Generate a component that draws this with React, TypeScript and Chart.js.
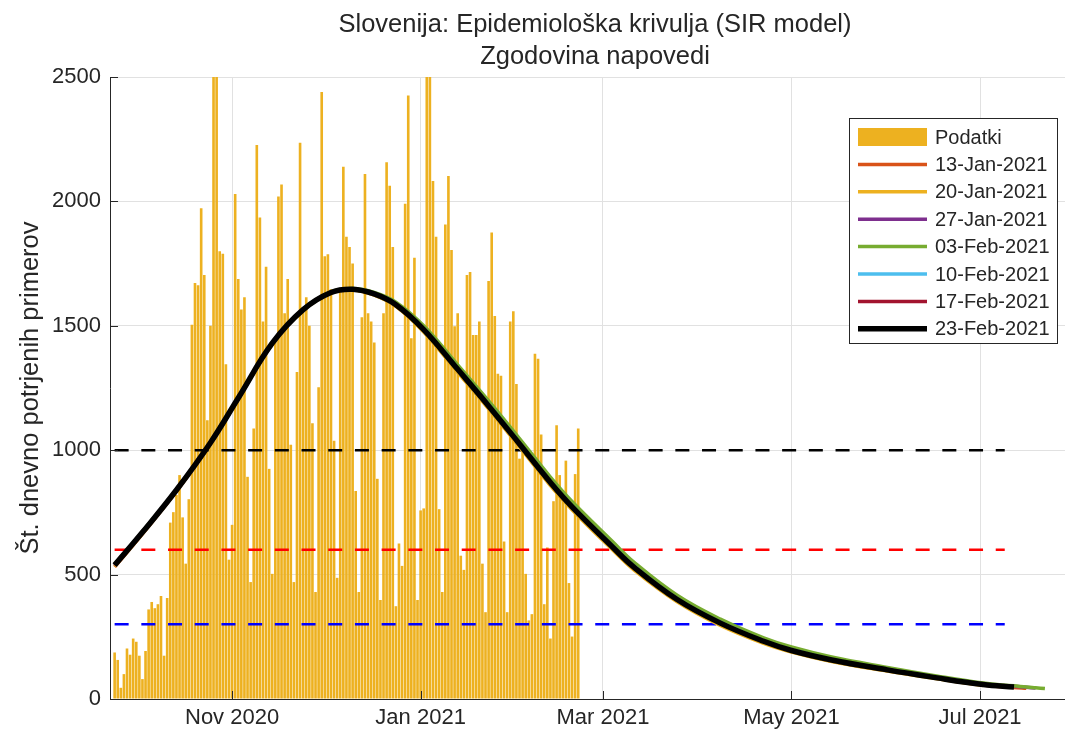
import React, { useEffect, useRef } from 'react';
import { Chart, registerables } from 'chart.js';

Chart.register(...registerables);

const FONT = "'Liberation Sans', Arial, Helvetica, sans-serif";
const TEXT = '#262626';
const GRID = '#e1e1e1';

const TITLE_LINES = ['Slovenija: Epidemiološka krivulja (SIR model)', 'Zgodovina napovedi'];
const Y_LABEL = 'Št. dnevno potrjenih primerov';

// Daily confirmed cases, one bar per day from CASES_START
const CASES_START = '2020-09-24';
const CASES = [
  187, 157, 45, 100, 203, 178, 243, 230, 174, 80, 193, 360, 390, 365, 381, 414, 174, 406, 709, 751,
  820, 900, 730, 544, 803, 1504, 1672, 1663, 1972, 1704, 1120,
  1500, 2540, 2500, 1800, 1790, 1345, 560, 700, 2030, 1688, 1566, 1615, 893, 470, 1087, 2227, 1935, 1517,
  1737, 925, 503, 1452, 2020, 2068, 1550, 1688, 1022, 470, 1314, 2236, 1566,
  1615, 1500, 1108, 430, 1253, 2440, 1780, 1788, 1647, 1038, 487, 1647, 2139, 1858, 1817, 1750, 836, 430,
  1534, 2110, 1550, 1517, 1433, 885, 398, 1550, 2157, 2063, 1817, 373, 625,
  535, 1991, 2426, 1450, 1774, 398, 758, 766, 2540, 2520, 2082, 1858, 763, 430, 1907, 2102, 1805, 1498,
  1550, 576, 519, 1704, 1716, 1463, 1463, 1517, 544, 349, 1680, 1875,
  1539, 1307, 1299, 633, 349, 1517, 1558, 1266, 966, 1014, 503, 316, 341, 1388, 1368, 1063, 381, 609,
  243, 795, 1100, 900, 820, 958, 466, 251, 904, 1087,
];

// SIR forecast curves, sampled at these dates
const CURVE_DATES = [
  '2020-09-24', '2020-10-03', '2020-10-14', '2020-10-25', '2020-11-03', '2020-11-14', '2020-11-24',
  '2020-12-03', '2020-12-10', '2020-12-17', '2020-12-24', '2021-01-02', '2021-01-13', '2021-01-23',
  '2021-02-02', '2021-02-12', '2021-02-19', '2021-03-04', '2021-03-11', '2021-03-25', '2021-04-08',
  '2021-04-22', '2021-05-01', '2021-05-14', '2021-06-01', '2021-06-15', '2021-07-02', '2021-07-12',
  '2021-07-16', '2021-07-19', '2021-07-22',
];
const FC_13_JAN = [531, 664, 835, 1026, 1207, 1427, 1563, 1632, 1645, 1624, 1580, 1478, 1316, 1169, 1016, 861, 764, 604, 522, 394, 299, 227, 192, 153, 114, 87, 56, 46, 43];
const FC_20_JAN = [533, 665, 836, 1027, 1207, 1427, 1562, 1631, 1644, 1623, 1578, 1475, 1313, 1166, 1013, 858, 761, 601, 519, 391, 296, 224, 189, 151, 112, 85, 54];
const FC_27_JAN = [538, 670, 840, 1030, 1210, 1430, 1565, 1634, 1647, 1630, 1590, 1492, 1333, 1187, 1034, 879, 781, 620, 538, 407, 311, 237, 201, 162, 121, 93, 61, 51, 47, 44];
const FC_03_FEB = [541, 673, 842, 1032, 1212, 1431, 1566, 1636, 1650, 1634, 1595, 1500, 1343, 1198, 1047, 892, 794, 634, 550, 417, 321, 246, 209, 169, 127, 97, 64, 53, 48, 45, 42];
const FC_10_FEB = [538, 670, 840, 1030, 1210, 1430, 1565, 1634, 1647, 1629, 1587, 1488, 1328, 1182, 1029, 874, 776, 616, 534, 403, 308, 234, 198, 159, 119, 91, 59, 49];
const FC_17_FEB = [538, 670, 840, 1030, 1210, 1430, 1565, 1634, 1647, 1628, 1586, 1486, 1326, 1179, 1026, 871, 773, 613, 531, 401, 306, 233, 196, 158, 118, 90, 58, 48];
const FC_23_FEB = [538, 670, 840, 1030, 1210, 1430, 1565, 1634, 1647, 1628, 1585, 1485, 1325, 1178, 1025, 870, 772, 612, 530, 400, 305, 232, 195, 157, 117, 89, 58, 48];

const BAR_LABEL = 'Podatki';
const BAR_COLOR = '#EDB120';
const SERIES_LABELS = ['13-Jan-2021', '20-Jan-2021', '27-Jan-2021', '03-Feb-2021', '10-Feb-2021', '17-Feb-2021', '23-Feb-2021'];
const SERIES_VALUES = [FC_13_JAN, FC_20_JAN, FC_27_JAN, FC_03_FEB, FC_10_FEB, FC_17_FEB, FC_23_FEB];
const SERIES_COLORS = ['#D95319', '#EDB120', '#7E2F8E', '#77AC30', '#4DBEEE', '#A2142F', '#000000'];

const THRESHOLDS = [1000, 600, 300];
const THRESHOLD_COLORS = ['#000000', '#FF0000', '#0000FF'];
const THRESHOLD_SPAN = ['2020-09-24', '2021-07-09'];

const X_RANGE = ['2020-09-22T12:00:00Z', '2021-07-28T12:00:00Z'];
const X_TICK_DATES = ['2020-11-01', '2021-01-01', '2021-03-01', '2021-05-01', '2021-07-01'];
const X_TICK_LABELS = ['Nov 2020', 'Jan 2021', 'Mar 2021', 'May 2021', 'Jul 2021'];
const Y_TICKS = [0, 500, 1000, 1500, 2000, 2500];

const day = (s: string) => Date.parse(s.length === 10 ? s + 'T00:00:00Z' : s) / 86400000;

const decorPlugin = {
  id: 'matlabDecor',
  afterDraw(chart: any) {
    const ctx = chart.ctx as CanvasRenderingContext2D;
    const area = chart.chartArea;
    const xs = chart.scales.x;
    const ys = chart.scales.y;
    ctx.save();
    // inward tick marks
    ctx.strokeStyle = TEXT;
    ctx.lineWidth = 1;
    Y_TICKS.forEach((v) => {
      const py = Math.round(ys.getPixelForValue(v)) + 0.5;
      ctx.beginPath();
      ctx.moveTo(area.left, py);
      ctx.lineTo(area.left + 8, py);
      ctx.stroke();
    });
    X_TICK_DATES.forEach((d) => {
      const px = Math.round(xs.getPixelForValue(day(d))) + 0.5;
      ctx.beginPath();
      ctx.moveTo(px, area.bottom);
      ctx.lineTo(px, area.bottom - 8);
      ctx.stroke();
    });
    // title
    ctx.fillStyle = TEXT;
    ctx.font = `25.5px ${FONT}`;
    ctx.textAlign = 'center';
    ctx.textBaseline = 'middle';
    ctx.fillText(TITLE_LINES[0], 595, 25);
    ctx.fillText(TITLE_LINES[1], 595, 57);
    // y label
    ctx.save();
    ctx.translate(31, (area.top + area.bottom) / 2);
    ctx.rotate(-Math.PI / 2);
    ctx.fillText(Y_LABEL, 0, 0);
    ctx.restore();
    // legend
    const LX = 849, LY = 118, LW = 208, LH = 225;
    ctx.fillStyle = '#ffffff';
    ctx.fillRect(LX, LY, LW, LH);
    ctx.strokeStyle = TEXT;
    ctx.lineWidth = 1;
    ctx.strokeRect(LX + 0.5, LY + 0.5, LW, LH);
    ctx.font = `20px ${FONT}`;
    ctx.textAlign = 'left';
    ctx.textBaseline = 'middle';
    const entries = [{ label: BAR_LABEL, color: BAR_COLOR, bar: true, w: 0 }].concat(
      SERIES_LABELS.map((l, i) => ({ label: l, color: SERIES_COLORS[i], bar: false, w: i === 6 ? 5.5 : 3.5 }))
    );
    entries.forEach((e, i) => {
      const cy = 137 + i * 27.4;
      if (e.bar) {
        ctx.fillStyle = e.color;
        ctx.fillRect(858, cy - 9, 69, 18);
      } else {
        ctx.strokeStyle = e.color;
        ctx.lineWidth = e.w;
        ctx.beginPath();
        ctx.moveTo(858, cy);
        ctx.lineTo(927, cy);
        ctx.stroke();
      }
      ctx.fillStyle = TEXT;
      ctx.fillText(e.label, 935, cy + 1);
    });
    ctx.restore();
  },
};

export default function App() {
  const ref = useRef<HTMLCanvasElement>(null);
  useEffect(() => {
    const start = day(CASES_START);
    const datasets: any[] = [];
    SERIES_VALUES.forEach((vals, i) => {
      datasets.push({
        type: 'line',
        label: SERIES_LABELS[i],
        data: vals.map((v, j) => ({ x: day(CURVE_DATES[j]), y: v })),
        borderColor: SERIES_COLORS[i],
        backgroundColor: SERIES_COLORS[i],
        borderWidth: i === 6 ? 5.5 : 3.5,
        pointRadius: 0,
        fill: false,
        tension: 0.4,
        borderJoinStyle: 'round',
        order: 7 - i,
      });
    });
    THRESHOLDS.forEach((t, i) => {
      datasets.push({
        type: 'line',
        label: 'thr' + t,
        data: THRESHOLD_SPAN.map((d) => ({ x: day(d), y: t })),
        borderColor: THRESHOLD_COLORS[i],
        borderWidth: 2.5,
        borderDash: [14, 12.7],
        pointRadius: 0,
        fill: false,
        order: 10 + i,
      });
    });
    datasets.push({
      type: 'bar',
      label: BAR_LABEL,
      data: CASES.map((v, i) => ({ x: start + i, y: v })),
      backgroundColor: BAR_COLOR,
      borderWidth: 0,
      barPercentage: 0.85,
      categoryPercentage: 1,
      grouped: false,
      order: 20,
    });

    const chart = new Chart(ref.current as HTMLCanvasElement, {
      type: 'bar',
      data: { datasets },
      plugins: [decorPlugin],
      options: {
        animation: false,
        responsive: false,
        devicePixelRatio: 1,
        layout: { padding: { top: 77, right: 0, bottom: 0, left: 0 } },
        plugins: { legend: { display: false }, title: { display: false }, tooltip: { enabled: false } },
        scales: {
          x: {
            type: 'linear',
            min: day(X_RANGE[0]),
            max: day(X_RANGE[1]),
            offset: false,
            afterBuildTicks: (scale: any) => {
              scale.ticks = X_TICK_DATES.map((d) => ({ value: day(d) }));
            },
            afterFit: (scale: any) => {
              scale.height = 37;
            },
            ticks: {
              callback: (_v: any, idx: number) => X_TICK_LABELS[idx],
              font: { family: FONT, size: 22 },
              color: TEXT,
              padding: 6,
              maxRotation: 0,
              autoSkip: false,
            },
            grid: { color: GRID, drawTicks: false, offset: false },
            border: { display: true, color: TEXT, width: 1 },
          },
          y: {
            type: 'linear',
            min: 0,
            max: 2500,
            afterBuildTicks: (scale: any) => {
              scale.ticks = Y_TICKS.map((v) => ({ value: v }));
            },
            afterFit: (scale: any) => {
              scale.width = 110;
            },
            ticks: {
              callback: (v: any) => String(v),
              font: { family: FONT, size: 22 },
              color: TEXT,
              padding: 9,
            },
            grid: { color: GRID, drawTicks: false },
            border: { display: true, color: TEXT, width: 1 },
          },
        },
      } as any,
    } as any);
    return () => chart.destroy();
  }, []);
  return (
    <div style={{ position: 'fixed', left: 0, top: 0, width: 1065, height: 736, background: '#fff' }}>
      <canvas ref={ref} width={1065} height={736} style={{ display: 'block', width: 1065, height: 736 }} />
    </div>
  );
}
